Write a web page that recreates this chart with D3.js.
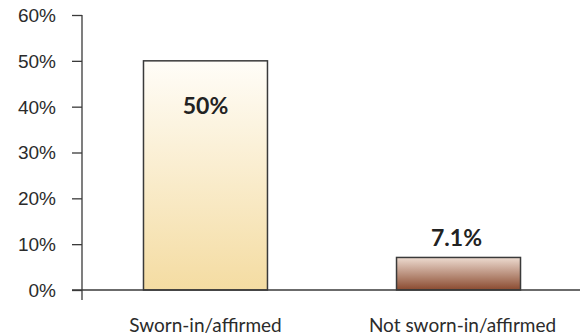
<!DOCTYPE html>
<html>
<head>
<meta charset="utf-8">
<script src="https://cdn.jsdelivr.net/npm/d3@7"></script>
<style>
  html, body { margin: 0; padding: 0; background: #fff; }
  svg { display: block; }
</style>
</head>
<body>
<svg id="chart" width="580" height="335"></svg>
<script>
// Share of cases by oath status
const categories = ["Sworn-in/affirmed", "Not sworn-in/affirmed"];
const values = [50, 7.1];
const valueLabels = ["50%", "7.1%"];
const yTicks = [0, 10, 20, 30, 40, 50, 60];

const svg = d3.select("#chart");

const y = d3.scaleLinear().domain([0, 60]).range([290, 15]);
const x = d3.scaleBand().domain(categories).range([82, 582])
  .paddingInner(0.51).paddingOuter(0.243);

// Gradient fills, light at the top fading to the bar colour
const defs = svg.append("defs");
const gradients = [
  { id: "g0", top: "#fffdf8", bottom: "#f4dca2" },
  { id: "g1", top: "#eddbd0", bottom: "#8a4a2f" }
];
gradients.forEach(g => {
  const lg = defs.append("linearGradient").attr("id", g.id)
    .attr("x1", 0).attr("y1", 0).attr("x2", 0).attr("y2", 1);
  lg.append("stop").attr("offset", "0%").attr("stop-color", g.top);
  lg.append("stop").attr("offset", "100%").attr("stop-color", g.bottom);
});

// Bars
svg.selectAll("rect.bar").data(values).enter().append("rect")
  .attr("class", "bar")
  .attr("x", (d, i) => x(categories[i]))
  .attr("y", d => y(d))
  .attr("width", x.bandwidth())
  .attr("height", d => y(0) - y(d))
  .attr("fill", (d, i) => `url(#g${i})`)
  .attr("stroke", "#3a3a3a")
  .attr("stroke-width", 1.5);

// Y axis
const yAxis = d3.axisLeft(y).tickValues(yTicks).tickFormat(d => d + "%")
  .tickSize(10).tickPadding(16);
const gy = svg.append("g").attr("transform", "translate(82,0)").call(yAxis);
gy.select(".domain").remove();
gy.append("line").attr("x1", 0).attr("x2", 0).attr("y1", 15).attr("y2", 300)
  .attr("stroke", "#3a3a3a").attr("stroke-width", 1.3);
gy.selectAll(".tick line").attr("stroke", "#3a3a3a").attr("stroke-width", 1.3);
gy.selectAll(".tick text")
  .attr("font-family", "'Liberation Sans', Arial, sans-serif")
  .attr("font-size", 19).attr("fill", "#2b2b2b")
  .attr("dy", "0.34em");

// Baseline
svg.append("line").attr("x1", 72).attr("x2", 580)
  .attr("y1", y(0)).attr("y2", y(0))
  .attr("stroke", "#3a3a3a").attr("stroke-width", 1.3);

// Value labels: inside the tall bar, above the short one
svg.selectAll("text.val").data(values).enter().append("text")
  .attr("class", "val")
  .attr("x", (d, i) => x(categories[i]) + x.bandwidth() / 2 - (i === 1 ? 2 : 0))
  .attr("y", d => (y(0) - y(d) > 80 ? y(d) + 53 : y(d) - 11))
  .attr("text-anchor", "middle")
  .attr("font-family", "Lato, 'Open Sans', sans-serif")
  .attr("font-weight", "bold")
  .attr("font-size", 23)
  .attr("fill", "#222")
  .text((d, i) => valueLabels[i]);

// Category labels
svg.selectAll("text.cat").data(categories).enter().append("text")
  .attr("class", "cat")
  .attr("x", d => x(d) + x.bandwidth() / 2 + (d === categories[1] ? 4 : 0))
  .attr("y", 332)
  .attr("text-anchor", "middle")
  .attr("font-family", "Lato, 'Open Sans', sans-serif")
  .attr("font-size", 19)
  .attr("fill", "#2b2b2b")
  .text(d => d);
</script>
</body>
</html>
